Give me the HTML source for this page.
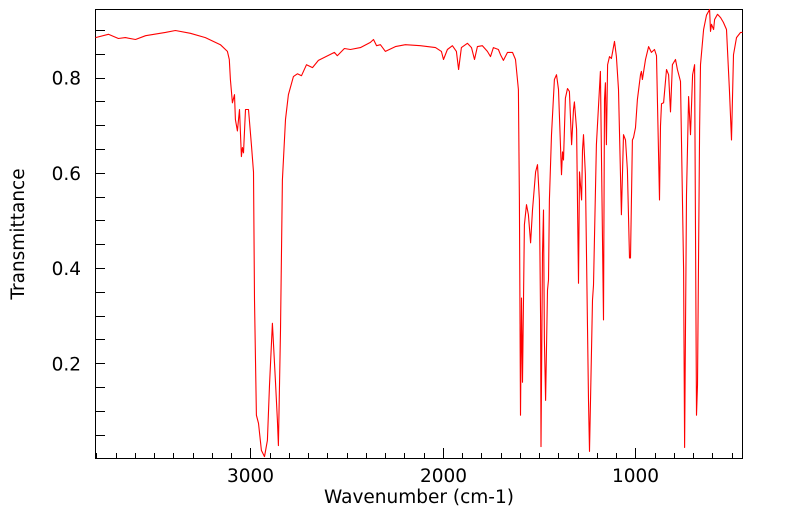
<!DOCTYPE html>
<html><head><meta charset="utf-8"><style>
html,body{margin:0;padding:0;background:#fff;}
svg{display:block;font-family:"DejaVu Sans","Liberation Sans",sans-serif;}
</style></head><body>
<svg id="chart" width="799" height="516" viewBox="0 0 799 516">
<rect x="95.5" y="9.5" width="647" height="449" fill="none" stroke="#000" stroke-width="1"/>
<g id="xticks"></g>
<g id="yticks"></g>
<polyline id="spec" fill="none" stroke="#ff0000" stroke-width="1.1" stroke-linejoin="round"/>
<text x="419" y="503" font-size="18.5" text-anchor="middle">Wavenumber (cm-1)</text>
<text x="24" y="234" font-size="18.5" text-anchor="middle" transform="rotate(-90 24 234)">Transmittance</text>
</svg>
<script>
const wavenumbers=[3805,3738,3686,3650,3597,3545,3442,3390,3312,3234,3156,3120,3110,3104,3094,3083,3078,3068,3057,3047,3042,3036,3026,3010,2995,2984,2979,2969,2958,2943,2927,2912,2901,2886,2870,2860,2855,2844,2834,2818,2803,2777,2756,2735,2709,2678,2647,2564,2549,2512,2481,2429,2377,2361,2345,2325,2299,2247,2195,2117,2039,2008,1997,1977,1951,1930,1919,1904,1873,1852,1836,1821,1795,1769,1753,1738,1712,1701,1686,1665,1639,1623,1608,1603,1597,1592,1587,1577,1566,1556,1545,1535,1519,1509,1499,1493,1491,1483,1478,1473,1467,1457,1452,1447,1436,1421,1410,1400,1384,1379,1374,1364,1353,1343,1332,1322,1317,1306,1296,1291,1280,1275,1270,1260,1244,1239,1223,1218,1203,1182,1166,1161,1156,1151,1145,1135,1125,1109,1099,1088,1073,1062,1052,1042,1031,1026,1016,1010,1000,990,974,969,964,948,932,917,901,891,875,870,865,854,839,828,818,808,792,782,766,750,745,735,724,714,703,693,683,678,667,662,646,631,615,610,605,594,589,574,558,543,527,512,501,491,475,454,444];
const transmittance=[0.884,0.891,0.882,0.884,0.880,0.888,0.895,0.899,0.893,0.884,0.869,0.855,0.838,0.796,0.747,0.764,0.712,0.688,0.733,0.634,0.653,0.642,0.733,0.733,0.659,0.602,0.333,0.091,0.074,0.017,0.004,0.038,0.154,0.284,0.160,0.080,0.027,0.269,0.585,0.712,0.764,0.802,0.808,0.804,0.827,0.821,0.836,0.853,0.846,0.861,0.859,0.863,0.874,0.880,0.867,0.869,0.855,0.865,0.869,0.867,0.863,0.855,0.838,0.859,0.867,0.855,0.817,0.863,0.872,0.863,0.838,0.865,0.867,0.855,0.844,0.863,0.859,0.848,0.836,0.853,0.853,0.838,0.775,0.543,0.091,0.337,0.160,0.491,0.533,0.512,0.453,0.522,0.602,0.617,0.543,0.291,0.025,0.432,0.522,0.248,0.122,0.354,0.375,0.543,0.680,0.796,0.806,0.775,0.596,0.644,0.627,0.757,0.777,0.771,0.659,0.733,0.749,0.691,0.368,0.602,0.543,0.648,0.680,0.596,0.122,0.015,0.333,0.364,0.659,0.813,0.291,0.754,0.789,0.659,0.827,0.844,0.840,0.876,0.844,0.775,0.512,0.680,0.669,0.606,0.421,0.421,0.669,0.674,0.695,0.754,0.806,0.813,0.796,0.838,0.865,0.853,0.859,0.846,0.543,0.699,0.745,0.747,0.817,0.806,0.728,0.827,0.838,0.817,0.792,0.396,0.023,0.554,0.760,0.680,0.806,0.827,0.091,0.154,0.691,0.827,0.901,0.931,0.943,0.897,0.912,0.901,0.922,0.933,0.926,0.916,0.901,0.775,0.669,0.848,0.884,0.895,0.895];
const xMajor=[3000,2000,1000];
const yMajor=[0.2,0.4,0.6,0.8];
const yMajorLabels=["0.2","0.4","0.6","0.8"];
const X0=95.5,X1=742.5,Y0=9.5,Y1=458.5,WNL=3805,WNR=444,TB=0,TT=0.943;
function xs(w){return X0+(WNL-w)/(WNL-WNR)*(X1-X0);}
function ys(t){return Y1-(t-TB)/(TT-TB)*(Y1-Y0);}
const NS="http://www.w3.org/2000/svg";
const pl=document.getElementById('spec');
pl.setAttribute('points',wavenumbers.map((w,i)=>xs(w).toFixed(1)+","+ys(transmittance[i]).toFixed(1)).join(" "));
const gx=document.getElementById('xticks'),gy=document.getElementById('yticks');
for(let w=3800;w>=500;w-=100){
 const major=xMajor.includes(w);
 const l=document.createElementNS(NS,'line');
 
 
 const x=Math.round(xs(w))+0.5;
 l.setAttribute('x1',x);l.setAttribute('x2',x);l.setAttribute('y1',458.5);l.setAttribute('y2',major?448:453);
 l.setAttribute('stroke','#000');gx.appendChild(l);
 if(major){const t=document.createElementNS(NS,'text');
  
  
  t.setAttribute('x',x);t.setAttribute('y',482);t.setAttribute('font-size','18.5');t.setAttribute('text-anchor','middle');t.textContent=w;gx.appendChild(t);}
}
for(let k=1;k<=18;k++){
 const v=k*0.05;const y=Math.round(ys(v))+0.5;
 const l=document.createElementNS(NS,'line');
 
 
 l.setAttribute('x1',95.5);l.setAttribute('x2',105);l.setAttribute('y1',y);l.setAttribute('y2',y);
 l.setAttribute('stroke','#000');gy.appendChild(l);
}
yMajor.forEach((v,i)=>{const t=document.createElementNS(NS,'text');
 
 
 t.setAttribute('x',81);t.setAttribute('y',ys(v)+7);t.setAttribute('font-size','18.5');t.setAttribute('text-anchor','end');t.textContent=yMajorLabels[i];gy.appendChild(t);});
</script>
</body></html>
